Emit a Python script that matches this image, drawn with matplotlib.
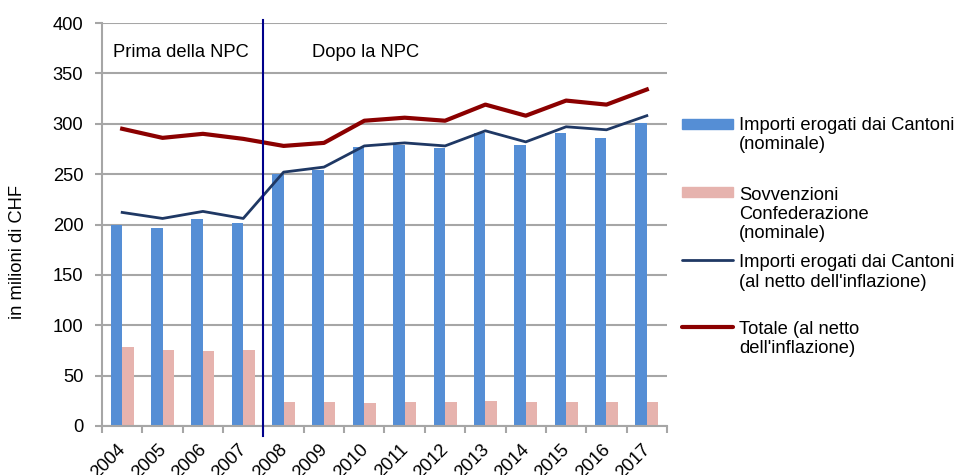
import matplotlib.pyplot as plt
import numpy as np
from matplotlib.patches import Rectangle
from matplotlib.lines import Line2D
import matplotlib.transforms as mtransforms

plt.rcParams['font.family'] = ['Liberation Sans', 'DejaVu Sans']

# data (millions of CHF)
years = ["2004", "2005", "2006", "2007", "2008", "2009", "2010",
         "2011", "2012", "2013", "2014", "2015", "2016", "2017"]
cantoni_nominale = [200, 197, 205, 201, 250, 254, 277, 279, 276, 291, 279, 291, 286, 301]
confederazione_nominale = [78, 75, 74, 75, 24, 24, 23, 24, 24, 25, 24, 24, 24, 24]
cantoni_reale = [212, 206, 213, 206, 252, 257, 278, 281, 278, 293, 282, 297, 294, 308]
totale_reale = [295, 286, 290, 285, 278, 281, 303, 306, 303, 319, 308, 323, 319, 334]

legend_labels = [
    "Importi erogati dai Cantoni\n(nominale)",
    "Sovvenzioni\nConfederazione\n(nominale)",
    "Importi erogati dai Cantoni\n(al netto dell'inflazione)",
    "Totale (al netto\ndell'inflazione)",
]

c_blue = "#558ED5"
c_pink = "#E6B3AE"
c_navy = "#1F3864"
c_red = "#8B0000"
c_grid = "#A6A6A6"
fs = 13.2

W, H = 959, 475
fig = plt.figure(figsize=(W / 100, H / 100), dpi=100)
ax = fig.add_axes([102 / W, 1 - 426 / H, 565 / W, 403 / H])

x = np.arange(len(years))
w = 0.285
ax.bar(x - w / 2, cantoni_nominale, w, color=c_blue, zorder=2)
ax.bar(x + w / 2, confederazione_nominale, w, color=c_pink, zorder=2)
ax.plot(x, cantoni_reale, color=c_navy, lw=2, zorder=3)
ax.plot(x, totale_reale, color=c_red, lw=3, zorder=3)

ax.set_xlim(-0.5, len(years) - 0.5)
ax.set_ylim(0, 400)
ax.set_yticks(range(0, 401, 50))
ax.yaxis.grid(True, color=c_grid, lw=1.5, zorder=0)
ax.set_axisbelow(True)

# tick marks sit on the category boundaries
ax.set_xticks(np.arange(-0.5, len(years), 1))
ax.set_xticklabels([])
ax.tick_params(axis='x', length=5, width=1.5, color=c_grid, direction='out')
ax.tick_params(axis='y', length=5, width=1.5, color=c_grid, labelsize=fs, pad=8.5)
for s in ["top", "right"]:
    ax.spines[s].set_visible(False)
for s in ["left", "bottom"]:
    ax.spines[s].set_color(c_grid)
    ax.spines[s].set_linewidth(1.5)

offset = mtransforms.ScaledTranslation(-5 / 100, -15 / 100, fig.dpi_scale_trans)
for i, yr in enumerate(years):
    ax.text(i, 0, yr, rotation=45, ha='right', va='top', rotation_mode='anchor',
            fontsize=fs, transform=ax.get_xaxis_transform() + offset)

ax.set_ylabel("in milioni di CHF", fontsize=fs)
ax.yaxis.set_label_coords(-0.135, 0.433)

# divider between before/after NPC
ax.axvline(3.5, ymin=-0.025, ymax=1.008, color="#00008B", lw=1.5, clip_on=False, zorder=4)
ax.text(-0.22, 366.5, "Prima della NPC", fontsize=fs, va='baseline')
ax.text(4.70, 366.5, "Dopo la NPC", fontsize=fs, va='baseline')

# legend on the right, key aligned with the first line of each label
key_y = [124, 192, 260, 327.3]
last_base_y = [149.3, 238.3, 286.7, 353.3]
for k in range(4):
    yk = 1 - key_y[k] / H
    if k < 2:
        col = c_blue if k == 0 else c_pink
        fig.add_artist(Rectangle((682 / W, yk - 4.7 / H), 51 / W, 9.4 / H,
                                 color=col, transform=fig.transFigure))
    else:
        col = c_navy if k == 2 else c_red
        fig.add_artist(Line2D([682 / W, 733 / W], [yk, yk], color=col,
                              lw=2 if k == 2 else 3, solid_capstyle='round',
                              transform=fig.transFigure))
    fig.text(739 / W, 1 - last_base_y[k] / H, legend_labels[k], fontsize=fs,
             va='baseline', ha='left', linespacing=1.18)

fig.savefig("out.png", dpi=100)
